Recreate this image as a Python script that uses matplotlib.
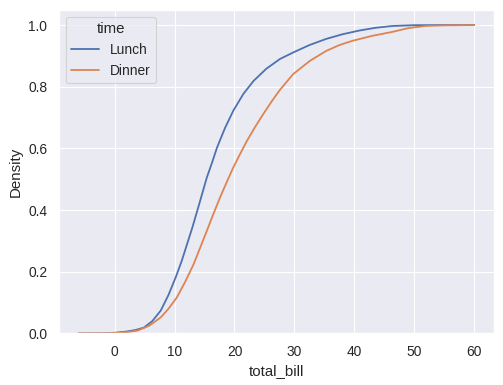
import matplotlib
matplotlib.use('Agg')
import matplotlib.pyplot as plt
import seaborn as sns

# Cumulative density curves
lunch_x = [-6, -2, 0, 2, 3.5, 4.9, 6.3, 7.7, 9, 10.2, 11.2, 12.1, 13, 13.8, 14.6, 15.4, 16.3,
           17.1, 18.4, 19.8, 21.5, 23.2, 25.3, 27.6, 29.8, 32.5, 35.3, 38, 40.8, 43.5, 46.4,
           50, 55, 60]
lunch_y = [0, 0.0005, 0.002, 0.006, 0.011, 0.019, 0.04, 0.074, 0.125, 0.182, 0.235, 0.29,
           0.345, 0.398, 0.452, 0.506, 0.556, 0.603, 0.665, 0.722, 0.777, 0.819, 0.858, 0.89,
           0.911, 0.935, 0.955, 0.97, 0.982, 0.991, 0.997, 0.9995, 1.0, 1.0]

dinner_x = [-6, -2, 0, 2, 3.8, 5.8, 7.7, 9, 10.4, 11.8, 13.2, 14.3, 15.4, 16.5, 17.6, 18.7,
            19.8, 21, 22.1, 23.4, 24.8, 26.2, 27.6, 29.8, 32.6, 35.3, 37.5, 39.7, 43, 46.4,
            49, 51.9, 55, 60]
dinner_y = [0, 0.0003, 0.001, 0.004, 0.009, 0.025, 0.052, 0.08, 0.117, 0.168, 0.225, 0.279,
            0.333, 0.388, 0.441, 0.49, 0.538, 0.584, 0.625, 0.668, 0.711, 0.752, 0.79, 0.841,
            0.884, 0.916, 0.935, 0.949, 0.965, 0.978, 0.99, 0.997, 0.999, 1.0]

# paper context with fonts bumped a little to match the reference
sns.set_theme(context='paper', font_scale=1.125)
plt.rcParams['font.family'] = ['Liberation Sans', 'DejaVu Sans']
colors = sns.color_palette()

fig = plt.figure(figsize=(5.03, 3.85), dpi=100)
ax = fig.add_axes([0.117, 0.134, 0.865, 0.841])
ax.plot(lunch_x, lunch_y, color=colors[0], label='Lunch', lw=1.3)
ax.plot(dinner_x, dinner_y, color=colors[1], label='Dinner', lw=1.3)
ax.set_ylim(0, 1.05)
ax.set_xlabel('total_bill')
ax.set_ylabel('Density')
ax.legend(title='time', loc='upper left')

fig.savefig('out.png', dpi=100)
